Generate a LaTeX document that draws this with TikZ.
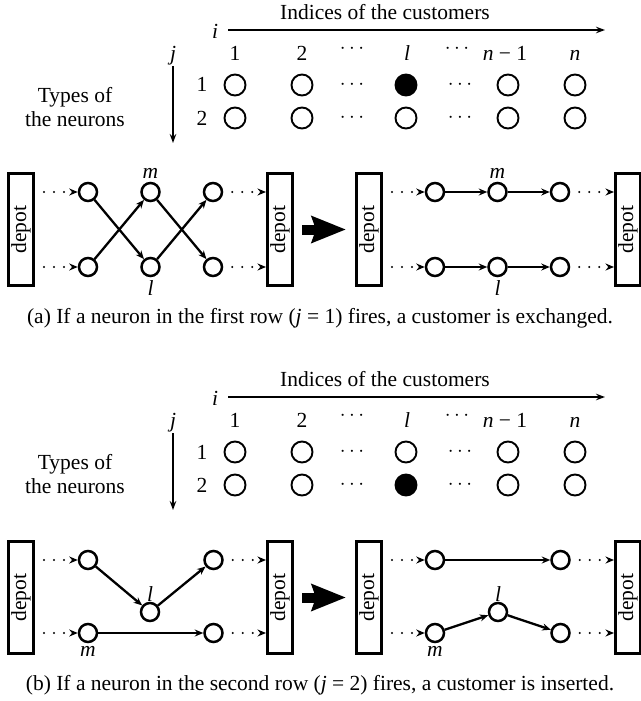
\documentclass[tikz,border=0pt]{standalone}
\usepackage{fontspec}
\setmainfont{Liberation Serif}
\usepackage{graphicx}
\usetikzlibrary{arrows.meta, positioning}

\tikzset{
  neuron/.style={circle, draw, line width=1.9pt, minimum size=21pt, inner sep=0pt},
  city/.style={circle, draw, line width=2.5pt, minimum size=18pt, inner sep=0pt},
  depotbox/.style={draw, line width=2.7pt, minimum width=25.3pt, minimum height=112.3pt, inner sep=0pt},
  route/.style={line width=2.3pt, -{Stealth[length=8.5pt, width=7pt]}},
  dotroute/.style={line width=2.4pt, line cap=round, dash pattern=on 0pt off 10pt,
    shorten <=9pt, -{Stealth[length=8.5pt, width=7pt]}},
  axis/.style={line width=1.5pt, -{Stealth[length=9pt, width=6.5pt]}},
  bigarrow/.style={line width=10pt, -{Stealth[length=34pt, width=26pt, inset=4pt]},
    shorten <=8pt, shorten >=9pt},
}

\begin{document}
\begin{tikzpicture}[x=1pt, y=-1pt, font=\fontsize{21.5}{24}\selectfont]
  \useasboundingbox (0,0) rectangle (640,701);

  % neuron grid, one per sub-figure
  \foreach \p/\dy/\fr in {a/0/1, b/367/2}{
    \begin{scope}[yshift=-\dy pt]
      \node (\p-head) at (385,12) {Indices of the customers};
      \node[anchor=base] (\p-i) at (215,38) {\textit{i}};
      \node[anchor=base] (\p-j) at (173,60) {\textit{j}};
      \coordinate (\p-ia) at (228,30);
      \coordinate (\p-ib) at (605,30);
      \coordinate (\p-ja) at (173,66);
      \coordinate (\p-jb) at (173,143);
      \draw[axis] (\p-ia) -- (\p-ib);
      \draw[axis] (\p-ja) -- (\p-jb);
      \node[align=center] (\p-types) at (75,107) {Types of\\the neurons};
      \foreach \x/\t [count=\c] in {235/1, 302/2, 407/\textit{l}, 505/\textit{n} − 1, 575/\textit{n}}
        \node[anchor=base] (\p-col\c) at (\x,60) {\t};
      \node (\p-cdots1) at (352,49) {$\cdots$};
      \node (\p-cdots2) at (457,49) {$\cdots$};
      \foreach \r/\yy in {1/85, 2/118}{
        \node[anchor=base] (\p-row\r) at (202,\yy+7) {\r};
        \foreach \x [count=\c] in {235,302,406,508,575}{
          \ifnum\r\c=\fr3 \def\shade{black}\else\def\shade{white}\fi
          \node[neuron, fill=\shade] (\p-n\r\c) at (\x,\yy) {};
        }
        \node (\p-dots\r1) at (352,\yy) {$\cdots$};
        \node (\p-dots\r2) at (460,\yy) {$\cdots$};
      }
    \end{scope}
  }

  % (a) exchange, before
  \node[depotbox] (a-d1) at (21,229.5) {\rotatebox{90}{depot}};
  \node[city] (a-t1) at (88,192) {};
  \node[city, right=42pt of a-t1, label=above:\textit{m}] (a-t2) {};
  \node[city, right=42pt of a-t2] (a-t3) {};
  \node[city] (a-b1) at (88,267) {};
  \node[city, right=42pt of a-b1, label=below:\textit{l}] (a-b2) {};
  \node[city, right=42pt of a-b2] (a-b3) {};
  \node[depotbox] (a-d2) at (280,229.5) {\rotatebox{90}{depot}};

  % (a) exchange, after
  \node[depotbox] (a-d3) at (369,229.5) {\rotatebox{90}{depot}};
  \node[city] (a-u1) at (435,192) {};
  \node[city, right=42pt of a-u1, label=above:\textit{m}] (a-u2) {};
  \node[city, right=42pt of a-u2] (a-u3) {};
  \node[city] (a-v1) at (435,267) {};
  \node[city, right=42pt of a-v1, label=below:\textit{l}] (a-v2) {};
  \node[city, right=42pt of a-v2] (a-v3) {};
  \node[depotbox] (a-d4) at (628,229.5) {\rotatebox{90}{depot}};

  \draw[dotroute] (a-d1.east |- a-t1) -- (a-t1);
  \draw[dotroute] (a-d1.east |- a-b1) -- (a-b1);
  \draw[dotroute] (a-t3) -- (a-t3 -| a-d2.west);
  \draw[dotroute] (a-b3) -- (a-b3 -| a-d2.west);
  \draw[route] (a-t1) -- (a-b2);
  \draw[route] (a-b1) -- (a-t2);
  \draw[route] (a-t2) -- (a-b3);
  \draw[route] (a-b2) -- (a-t3);
  \draw[bigarrow] (a-d2) -- (a-d3);
  \draw[dotroute] (a-d3.east |- a-u1) -- (a-u1);
  \draw[dotroute] (a-d3.east |- a-v1) -- (a-v1);
  \draw[dotroute] (a-u3) -- (a-u3 -| a-d4.west);
  \draw[dotroute] (a-v3) -- (a-v3 -| a-d4.west);
  \draw[route] (a-u1) -- (a-u2);
  \draw[route] (a-u2) -- (a-u3);
  \draw[route] (a-v1) -- (a-v2);
  \draw[route] (a-v2) -- (a-v3);

  \node (a-cap) at (320,318) {(a) If a neuron in the first row (\textit{j} = 1) fires, a customer is exchanged.};

  % (b) insertion, before
  \node[depotbox] (b-d1) at (21,597.5) {\rotatebox{90}{depot}};
  \node[city] (b-t1) at (88,560) {};
  \node[city, right=105pt of b-t1] (b-t3) {};
  \node[city, label={[label distance=-3pt]above:\textit{l}}] (b-mid) at (150,612) {};
  \node[city, label=below:\textit{m}] (b-b1) at (88,633) {};
  \node[city, right=105pt of b-b1] (b-b3) {};
  \node[depotbox] (b-d2) at (280,597.5) {\rotatebox{90}{depot}};

  % (b) insertion, after
  \node[depotbox] (b-d3) at (369,597.5) {\rotatebox{90}{depot}};
  \node[city] (b-u1) at (435,560) {};
  \node[city, right=105pt of b-u1] (b-u3) {};
  \node[city, label={[label distance=-3pt]above:\textit{l}}] (b-mid2) at (498,612) {};
  \node[city, label=below:\textit{m}] (b-v1) at (435,633) {};
  \node[city, right=105pt of b-v1] (b-v3) {};
  \node[depotbox] (b-d4) at (628,597.5) {\rotatebox{90}{depot}};

  \draw[dotroute] (b-d1.east |- b-t1) -- (b-t1);
  \draw[dotroute] (b-d1.east |- b-b1) -- (b-b1);
  \draw[dotroute] (b-t3) -- (b-t3 -| b-d2.west);
  \draw[dotroute] (b-b3) -- (b-b3 -| b-d2.west);
  \draw[route] (b-t1) -- (b-mid);
  \draw[route] (b-mid) -- (b-t3);
  \draw[route] (b-b1) -- (b-b3);
  \draw[bigarrow] (b-d2) -- (b-d3);
  \draw[dotroute] (b-d3.east |- b-u1) -- (b-u1);
  \draw[dotroute] (b-d3.east |- b-v1) -- (b-v1);
  \draw[dotroute] (b-u3) -- (b-u3 -| b-d4.west);
  \draw[dotroute] (b-v3) -- (b-v3 -| b-d4.west);
  \draw[route] (b-u1) -- (b-u3);
  \draw[route] (b-v1) -- (b-mid2);
  \draw[route] (b-mid2) -- (b-v3);

  \node (b-cap) at (320,685) {(b) If a neuron in the second row (\textit{j} = 2) fires, a customer is inserted.};
\end{tikzpicture}
\end{document}
